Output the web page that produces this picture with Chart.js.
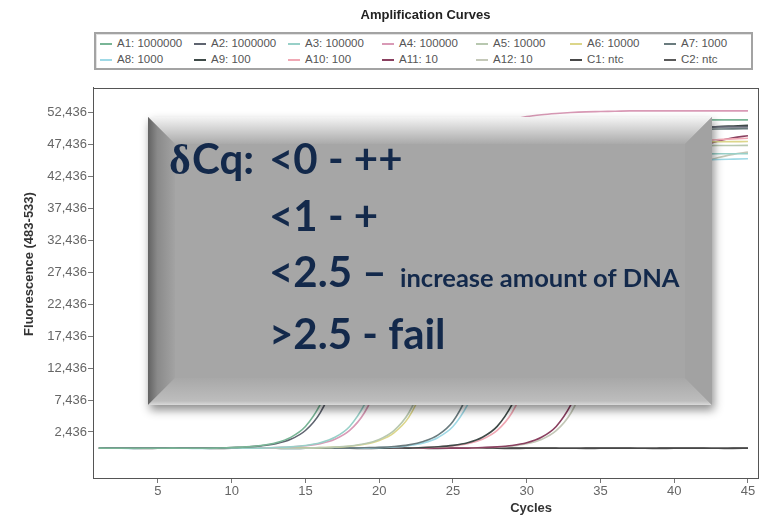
<!DOCTYPE html>
<html>
<head>
<meta charset="utf-8">
<script src="https://cdn.jsdelivr.net/npm/chart.js@4.4.1/dist/chart.umd.min.js"></script>
<style>
  body { margin: 0; background: #fff; }
  #wrap { position: relative; width: 769px; height: 522px; }
  #legend {
    position: absolute; left: 94px; top: 32px; width: 655px; height: 34px;
    border: 2px solid #a3a3a3; background: #fff;
    box-shadow: inset 1px 1px 0 #e2e2e2;
    font: 11.5px "Liberation Sans", Arial, sans-serif; color: #555;
  }
  #legend .item { position: absolute; white-space: nowrap; line-height: 14px; }
  #legend .item i { display: inline-block; width: 12px; height: 2px; vertical-align: middle; margin-right: 5px; }
</style>
</head>
<body>
<div id="wrap">
  <canvas id="ampChart" width="769" height="522"></canvas>
  <div id="legend"></div>
</div>
<script>
// cycles and tick labels
const cycles = [1,2,3,4,5,6,7,8,9,10,11,12,13,14,15,16,17,18,19,20,21,22,23,24,25,26,27,28,29,30,31,32,33,34,35,36,37,38,39,40,41,42,43,44,45];
const xTicks = [5, 10, 15, 20, 25, 30, 35, 40, 45];
const yTicks = [2436, 7436, 12436, 17436, 22436, 27436, 32436, 37436, 42436, 47436, 52436];

const sampleNames = ['A1: 1000000', 'A2: 1000000', 'A3: 100000', 'A4: 100000', 'A5: 10000', 'A6: 10000', 'A7: 1000',
                     'A8: 1000', 'A9: 100', 'A10: 100', 'A11: 10', 'A12: 10', 'C1: ntc', 'C2: ntc'];
const sampleColors = ['#79b596', '#5f6470', '#98d0c8', '#d99ab6', '#b8c8b0', '#dcd68a', '#6a7b7e',
                      '#9fd9e6', '#3f4a48', '#f0a8b4', '#8a4060', '#c4c8b8', '#484848', '#5a5a5a'];

// fluorescence per cycle
const a1 = [-100,-110,-120,-110,-110,-100,-110,-110,-100,0,100,320,740,1590,3290,6700,12000,19600,28200,35400,40500,44100,46500,48000,49000,49800,50300,50600,50800,50900,51000,51100,51150,51200,51200,51250,51250,51300,51300,51300,51300,51300,51300,51300,51300];
const a2 = [-80,-90,-90,-100,-90,-80,-90,-90,-90,0,80,260,600,1290,2670,5430,10400,17250,25200,32500,38150,42100,44800,46500,47700,48500,49050,49400,49640,49800,49900,49980,50030,50080,50110,50130,50150,50160,50170,50180,50190,50200,50200,50200,50200];
const a3 = [-100,-90,-110,-100,-100,-90,-100,-110,-100,-100,-90,-100,10,110,325,750,1600,3300,6700,11800,18800,25300,31700,36300,39600,41700,43100,44000,44600,45100,45400,45500,45650,45750,45800,45850,45900,45920,45940,45960,45970,45980,45990,46000,46000];
const a4 = [-80,-70,-90,-80,-80,-90,-80,-70,-80,-80,-90,-80,10,90,270,610,1300,2680,5440,10400,17600,26400,34700,40700,44900,47700,49600,50600,51300,51800,52100,52300,52450,52550,52600,52650,52700,52700,52700,52700,52700,52700,52700,52700,52700];
const a5 = [-110,-100,-120,-110,-110,-100,-110,-120,-110,-110,-100,-110,-110,-120,-110,-20,60,235,580,1270,2650,5410,10400,17100,24100,30650,35950,39700,42200,43850,44950,45700,46200,46550,46770,46920,47030,47100,47160,47200,47230,47260,47280,47290,47300];
const a6 = [-90,-80,-100,-90,-90,-80,-90,-100,-90,-90,-80,-90,-90,-100,-90,-15,60,210,510,1110,2310,4720,9350,15750,23000,29700,35450,39500,42300,44100,45300,46130,46700,47090,47330,47490,47600,47680,47740,47790,47830,47860,47880,47890,47900];
const a7 = [-100,-90,-110,-100,-100,-90,-100,-110,-100,-100,-90,-100,-100,-110,-100,-90,-100,-100,-35,30,160,420,950,1990,4090,8290,14250,21900,29600,36000,40550,43690,45750,47100,48010,48650,49090,49360,49560,49690,49780,49840,49870,49890,49900];
const a8 = [-120,-110,-130,-120,-120,-110,-120,-130,-120,-120,-110,-120,-120,-130,-120,-110,-120,-120,-120,-15,90,305,730,1580,3280,6700,11700,18400,24900,31200,35700,38900,40950,42300,43200,43850,44300,44570,44750,44880,44970,45040,45100,45150,45200];
const a9 = [-90,-80,-100,-90,-90,-80,-90,-100,-90,-90,-80,-90,-90,-100,-90,-80,-90,-90,-100,-90,-80,-90,15,120,335,760,1610,3310,6700,12050,19650,27800,34900,40000,43500,45850,47350,48370,49080,49590,49890,50090,50250,50350,50450];
const a10 = [-80,-70,-90,-80,-80,-70,-80,-90,-80,-80,-70,-80,-80,-90,-80,-70,-80,-80,-90,-80,-70,-80,5,90,265,610,1300,2680,5440,10400,17100,24600,31500,36940,40780,43350,45050,46170,46950,47480,47830,48060,48210,48330,48410];
const a11 = [-100,-90,-110,-100,-100,-90,-100,-110,-100,-100,-90,-100,-100,-110,-100,-90,-100,-100,-110,-100,-90,-100,-100,-110,-100,-90,5,110,325,750,1600,3300,6700,12000,19500,27300,34200,39100,42600,44850,46300,47300,48000,48500,48800];
const a12 = [-110,-100,-120,-110,-110,-100,-110,-120,-110,-110,-100,-110,-110,-120,-110,-100,-110,-110,-120,-110,-100,-110,-110,-120,-110,-100,-25,60,235,580,1270,2650,5410,10400,17000,23800,30500,35700,39400,41900,43600,44650,45400,45900,46250];
const c1 = [-90,-100,-110,-100,-90,-100,-100,-110,-100,-90,-90,-100,-110,-100,-90,-100,-100,-110,-100,-90,-90,-100,-110,-100,-90,-100,-100,-110,-100,-90,-90,-100,-110,-100,-90,-100,-100,-110,-100,-90,-100,-100,-110,-100,-90];
const c2 = [-120,-110,-120,-130,-120,-110,-120,-120,-130,-120,-120,-110,-120,-130,-120,-110,-120,-120,-130,-120,-120,-110,-120,-130,-120,-110,-120,-120,-130,-120,-120,-110,-120,-130,-120,-110,-120,-120,-130,-120,-120,-110,-120,-130,-120];

const seriesValues = [a1, a2, a3, a4, a5, a6, a7, a8, a9, a10, a11, a12, c1, c2];

const sansFont = '"Liberation Sans", Arial, sans-serif';
const textNavy = '#13294b';

// HTML legend laid out as a 7-column grid, built from the datasets
const htmlLegend = {
    id: 'htmlLegend',
    afterUpdate(chart) {
        const box = document.getElementById('legend');
        box.innerHTML = '';
        chart.data.datasets.forEach((ds, i) => {
            const item = document.createElement('div');
            item.className = 'item';
            item.style.left = (4 + (i % 7) * 94) + 'px';
            item.style.top = (2 + Math.floor(i / 7) * 16) + 'px';
            const mark = document.createElement('i');
            mark.style.background = ds.borderColor;
            item.appendChild(mark);
            item.appendChild(document.createTextNode(ds.label));
            box.appendChild(item);
        });
    }
};

// frame round the plot area
const plotFrame = {
    id: 'plotFrame',
    afterDatasetsDraw(chart) {
        const { ctx, chartArea: a } = chart;
        ctx.save();
        ctx.strokeStyle = '#555';
        ctx.lineWidth = 1;
        ctx.strokeRect(Math.round(a.left) + 0.5, Math.round(a.top) + 0.5, Math.round(a.right - a.left), Math.round(a.bottom - a.top));
        ctx.restore();
    }
};

// axis titles (the x title sits under the 30 tick in the original)
const axisTitles = {
    id: 'axisTitles',
    afterDraw(chart) {
        const ctx = chart.ctx;
        ctx.save();
        ctx.fillStyle = '#333';
        ctx.font = 'bold 13px ' + sansFont;
        ctx.textAlign = 'center';
        ctx.textBaseline = 'middle';
        ctx.fillText('Cycles', chart.scales.x.getPixelForValue(30.3), 508);
        ctx.translate(29, 264);
        ctx.rotate(-Math.PI / 2);
        ctx.fillText('Fluorescence (483-533)', 0, 0);
        ctx.restore();
    }
};

// grey bevelled note box laid over the chart
const noteBox = {
    id: 'noteBox',
    afterDraw(chart) {
        const ctx = chart.ctx;
        const x0 = 148, y0 = 117, x1 = 712, y1 = 405, b = 27;
        const poly = (pts, fill) => {
            ctx.beginPath();
            ctx.moveTo(pts[0][0], pts[0][1]);
            pts.slice(1).forEach(p => ctx.lineTo(p[0], p[1]));
            ctx.closePath();
            ctx.fillStyle = fill;
            ctx.fill();
        };
        ctx.save();
        ctx.shadowColor = 'rgba(0,0,0,0.45)';
        ctx.shadowBlur = 9;
        ctx.shadowOffsetX = 2;
        ctx.shadowOffsetY = 5;
        ctx.fillStyle = '#a6a6a6';
        ctx.fillRect(x0, y0, x1 - x0, y1 - y0);
        ctx.restore();

        ctx.save();
        let g = ctx.createLinearGradient(0, y0, 0, y0 + b);
        g.addColorStop(0, '#f4f4f4');
        g.addColorStop(1, '#aaaaaa');
        poly([[x0, y0], [x1, y0], [x1 - b, y0 + b], [x0 + b, y0 + b]], g);
        g = ctx.createLinearGradient(x0, 0, x0 + b, 0);
        g.addColorStop(0, '#626262');
        g.addColorStop(0.35, '#8a8a8a');
        g.addColorStop(1, '#a3a3a3');
        poly([[x0, y0], [x0 + b, y0 + b], [x0 + b, y1 - b], [x0, y1]], g);
        g = ctx.createLinearGradient(0, y1 - b, 0, y1);
        g.addColorStop(0, '#a8a8a8');
        g.addColorStop(0.85, '#bdbdbd');
        g.addColorStop(1, '#dadada');
        poly([[x0, y1], [x0 + b, y1 - b], [x1 - b, y1 - b], [x1, y1]], g);
        poly([[x1, y0], [x1, y1], [x1 - b, y1 - b], [x1 - b, y0 + b]], '#a2a2a2');

        ctx.fillStyle = textNavy;
        ctx.textBaseline = 'alphabetic';
        ctx.textAlign = 'left';
        ctx.font = 'bold 42px "Liberation Serif", serif';
        ctx.fillText('\u03b4', 169, 174);
        ctx.font = 'bold 42px Lato, sans-serif';
        ctx.fillText('Cq:', 192, 174);
        ctx.fillText('<0 - ++', 269, 174);
        ctx.fillText('<1 - +', 269, 231);
        ctx.fillText('<2.5 \u2013', 269, 287);
        ctx.fillText('>2.5 - fail', 269, 349);
        ctx.font = 'bold 25.5px Lato, sans-serif';
        ctx.fillText('increase amount of DNA', 400, 287);
        ctx.restore();
    }
};

const ctx = document.getElementById('ampChart').getContext('2d');
const ampChart = new Chart(ctx, {
    type: 'line',
    data: {
        datasets: seriesValues.map((vals, i) => ({
            label: sampleNames[i],
            data: vals.map((v, j) => ({ x: cycles[j], y: v })),
            borderColor: sampleColors[i],
            backgroundColor: sampleColors[i],
            borderWidth: 1.6,
            pointRadius: 0,
            fill: false,
            cubicInterpolationMode: 'monotone'
        }))
    },
    options: {
        responsive: false,
        animation: false,
        layout: { padding: { left: 0, right: 11, top: 0, bottom: 0 } },
        plugins: {
            legend: { display: false },
            tooltip: { enabled: false },
            title: {
                display: true,
                text: 'Amplification Curves',
                fullSize: false,
                color: '#222',
                font: { family: sansFont, size: 13, weight: 'bold' },
                padding: { top: 8, bottom: 64 }
            }
        },
        scales: {
            x: {
                type: 'linear',
                min: 0.6,
                max: 45.68,
                afterBuildTicks: s => { s.ticks = xTicks.map(v => ({ value: v })); },
                afterFit: s => { s.height = 44; },
                grid: { drawOnChartArea: false, tickLength: 5, color: '#777' },
                border: { color: '#555' },
                ticks: { padding: 1, color: '#666', maxRotation: 0, font: { family: sansFont, size: 13 } }
            },
            y: {
                min: -4770,
                max: 56350,
                afterBuildTicks: s => { s.ticks = yTicks.map(v => ({ value: v })); },
                afterFit: s => { s.width = 93; },
                grid: { drawOnChartArea: false, tickLength: 5, color: '#777' },
                border: { color: '#555' },
                ticks: {
                    padding: 1,
                    color: '#666',
                    font: { family: sansFont, size: 13 },
                    callback: v => v.toLocaleString('en-US')
                }
            }
        }
    },
    plugins: [htmlLegend, plotFrame, axisTitles, noteBox]
});
</script>
</body>
</html>
